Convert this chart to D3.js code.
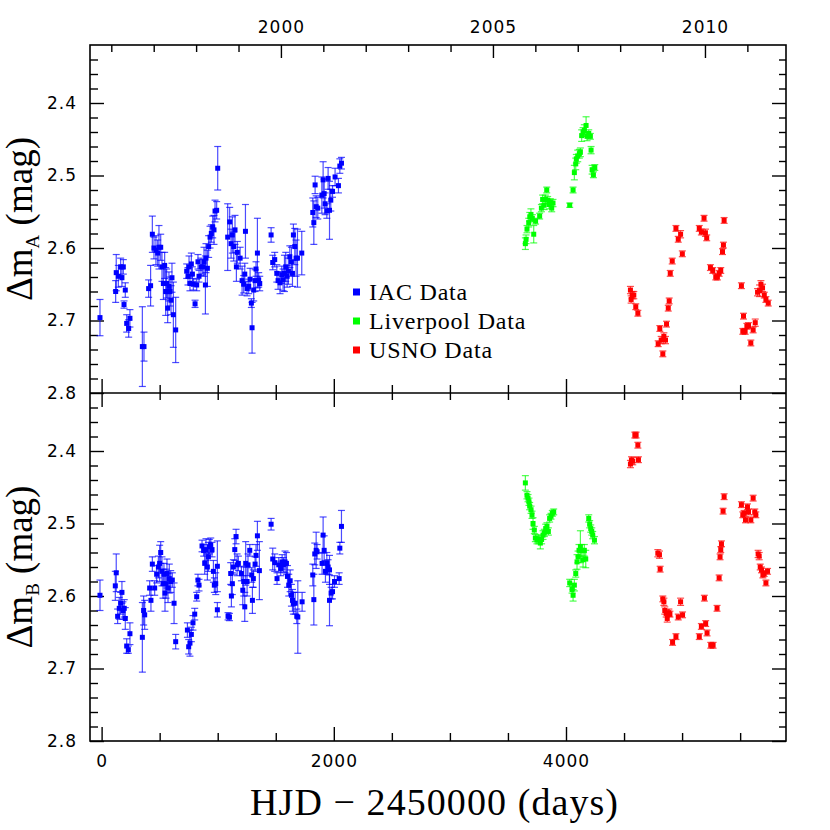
<!DOCTYPE html>
<html>
<head>
<meta charset="utf-8">
<script src="https://cdn.jsdelivr.net/npm/d3@7"></script>
<style>
  body { margin: 0; background: #fff; }
</style>
</head>
<body>
<div id="chart"></div>
<script>
// rows are [HJD - 2450000, delta mag, error]
var iacA = [[-14,2.696,0.025],[121,2.660,0.015],[126,2.634,0.025],[144,2.639,0.015],[164,2.626,0.012],[175,2.641,0.012],[187,2.626,0.010],[193,2.678,0.005],[204,2.658,0.010],[216,2.704,0.012],[233,2.711,0.012],[244,2.697,0.012],
  [351,2.736,0.055],[365,2.736,0.020],[405,2.656,0.012],[422,2.652,0.028],[437,2.581,0.025],[451,2.600,0.015],[468,2.603,0.020],[483,2.607,0.018],[494,2.599,0.030],[509,2.599,0.018],[520,2.626,0.020],[532,2.649,0.022],[543,2.624,0.018],[552,2.660,0.033],[560,2.649,0.020],[569,2.683,0.020],[580,2.653,0.020],[589,2.660,0.020],[598,2.672,0.020],[606,2.641,0.020],[618,2.692,0.045],[638,2.713,0.045],
  [733,2.632,0.010],[744,2.639,0.012],[753,2.626,0.015],[761,2.649,0.010],[773,2.622,0.015],[782,2.636,0.010],[790,2.650,0.008],[805,2.677,0.005],[819,2.651,0.008],[830,2.619,0.010],[839,2.639,0.008],[856,2.626,0.012],[871,2.626,0.010],[882,2.619,0.020],[894,2.651,0.040],[899,2.614,0.020],[911,2.628,0.025],[922,2.598,0.015],[934,2.585,0.015],[945,2.580,0.012],[957,2.571,0.015],[968,2.575,0.020],[977,2.549,0.015],[991,2.548,0.012],[1000,2.490,0.030],
  [1086,2.585,0.046],[1103,2.564,0.020],[1115,2.594,0.020],[1126,2.582,0.025],[1138,2.598,0.020],[1149,2.575,0.020],[1161,2.626,0.020],[1169,2.606,0.015],[1193,2.614,0.015],[1210,2.645,0.020],[1224,2.650,0.012],[1233,2.636,0.015],[1239,2.577,0.037],[1253,2.656,0.010],[1267,2.653,0.010],[1279,2.643,0.015],[1290,2.676,0.006],[1296,2.710,0.035],[1310,2.658,0.015],[1322,2.645,0.015],[1330,2.629,0.010],[1342,2.607,0.048],[1353,2.644,0.010],[1362,2.649,0.010],
  [1460,2.582,0.010],[1474,2.620,0.010],[1491,2.616,0.010],[1509,2.635,0.012],[1520,2.645,0.012],[1537,2.648,0.015],[1552,2.637,0.012],[1563,2.644,0.015],[1575,2.635,0.025],[1586,2.626,0.020],[1598,2.639,0.015],[1609,2.632,0.018],[1621,2.612,0.015],[1635,2.619,0.020],[1644,2.635,0.018],[1652,2.582,0.015],[1664,2.598,0.025],[1675,2.614,0.025],[1687,2.614,0.040],[1724,2.607,0.030],
  [1819,2.551,0.020],[1828,2.565,0.030],[1839,2.513,0.012],[1848,2.543,0.015],[1862,2.545,0.015],[1897,2.527,0.025],[1908,2.506,0.025],[1917,2.525,0.020],[1925,2.539,0.015],[1940,2.549,0.010],[1951,2.504,0.015],[1963,2.548,0.040],[1974,2.534,0.015],[1989,2.522,0.008],[2011,2.502,0.012],[2040,2.514,0.010],[2052,2.487,0.010],[2066,2.483,0.008]];

var liverpoolA = [[3650,2.594,0.008],[3656,2.588,0.006],[3664,2.574,0.005],[3679,2.565,0.006],[3688,2.557,0.006],[3698,2.554,0.008],[3710,2.559,0.005],[3722,2.581,0.012],[3738,2.563,0.004],[3773,2.556,0.004],[3788,2.545,0.005],[3799,2.533,0.006],[3811,2.541,0.006],[3822,2.533,0.006],[3834,2.520,0.004],[3842,2.534,0.005],[3854,2.540,0.006],[3865,2.537,0.005],[3877,2.545,0.005],[3888,2.538,0.005],
  [4032,2.541,0.003],[4061,2.520,0.004],[4072,2.496,0.010],[4084,2.484,0.008],[4089,2.477,0.006],[4101,2.473,0.008],[4115,2.470,0.006],[4124,2.468,0.006],[4135,2.445,0.008],[4147,2.440,0.006],[4158,2.438,0.008],[4173,2.431,0.012],[4181,2.446,0.006],[4196,2.442,0.005],[4210,2.446,0.004],[4216,2.465,0.005],[4225,2.492,0.006],[4236,2.499,0.004],[4248,2.489,0.004]];

var usnoA = [[4555,2.658,0.005],[4561,2.671,0.005],[4570,2.665,0.005],[4584,2.665,0.005],[4601,2.681,0.004],[4619,2.690,0.004],[4794,2.732,0.004],[4808,2.711,0.004],[4820,2.727,0.005],[4834,2.746,0.004],[4843,2.722,0.005],[4857,2.727,0.005],[4866,2.705,0.004],[4881,2.683,0.004],[4889,2.673,0.004],[4898,2.635,0.004],[4915,2.618,0.004],[4947,2.573,0.004],[4967,2.588,0.004],[4987,2.581,0.005],[5002,2.608,0.004],
  [5148,2.573,0.004],[5166,2.578,0.004],[5189,2.559,0.004],[5201,2.579,0.005],[5212,2.586,0.004],[5244,2.627,0.004],[5264,2.631,0.004],[5290,2.640,0.004],[5304,2.640,0.004],[5319,2.635,0.004],[5333,2.631,0.004],[5348,2.605,0.004],[5356,2.596,0.004],[5362,2.562,0.004],
  [5511,2.652,0.004],[5523,2.715,0.004],[5529,2.694,0.004],[5543,2.715,0.004],[5558,2.708,0.004],[5572,2.707,0.004],[5592,2.731,0.004],[5612,2.713,0.004],[5630,2.703,0.005],[5650,2.661,0.005],[5667,2.659,0.008],[5679,2.650,0.005],[5693,2.655,0.005],[5708,2.665,0.004],[5722,2.671,0.004],[5742,2.676,0.004]];

var iacB = [[-14,2.599,0.021],[118,2.586,0.020],[126,2.568,0.026],[138,2.628,0.010],[152,2.617,0.015],[164,2.610,0.015],[175,2.595,0.015],[184,2.620,0.012],[195,2.617,0.012],[204,2.631,0.015],[216,2.669,0.010],[230,2.674,0.005],[244,2.652,0.015],
  [351,2.657,0.048],[362,2.620,0.020],[371,2.626,0.020],[414,2.589,0.010],[425,2.606,0.015],[437,2.556,0.010],[457,2.589,0.010],[474,2.570,0.012],[489,2.560,0.015],[500,2.555,0.025],[509,2.540,0.015],[520,2.566,0.020],[529,2.583,0.020],[537,2.570,0.015],[546,2.596,0.025],[555,2.583,0.020],[563,2.569,0.020],[572,2.589,0.020],[583,2.576,0.020],[595,2.580,0.015],[609,2.578,0.010],[624,2.610,0.028],[638,2.663,0.010],
  [739,2.647,0.010],[750,2.670,0.010],[761,2.665,0.018],[773,2.653,0.010],[787,2.637,0.010],[802,2.625,0.008],[819,2.601,0.006],[830,2.578,0.008],[839,2.585,0.008],[865,2.531,0.008],[879,2.537,0.008],[888,2.555,0.015],[899,2.536,0.015],[911,2.560,0.018],[920,2.546,0.020],[928,2.532,0.010],[940,2.530,0.010],[951,2.536,0.010],[963,2.566,0.015],[971,2.585,0.010],[983,2.583,0.015],[997,2.559,0.035],[997,2.619,0.010],
  [1089,2.628,0.005],[1101,2.629,0.005],[1112,2.569,0.015],[1118,2.600,0.015],[1126,2.583,0.015],[1135,2.560,0.010],[1147,2.536,0.015],[1158,2.518,0.010],[1167,2.557,0.015],[1178,2.555,0.010],[1204,2.569,0.010],[1216,2.592,0.020],[1224,2.580,0.020],[1233,2.615,0.020],[1241,2.555,0.030],[1253,2.580,0.020],[1261,2.557,0.015],[1276,2.537,0.008],[1293,2.571,0.010],[1299,2.606,0.018],[1307,2.576,0.012],[1322,2.556,0.010],[1330,2.544,0.015],[1342,2.517,0.020],[1359,2.565,0.040],
  [1460,2.501,0.008],[1474,2.549,0.015],[1491,2.554,0.012],[1511,2.576,0.008],[1526,2.557,0.010],[1543,2.562,0.010],[1555,2.553,0.010],[1566,2.557,0.010],[1580,2.553,0.015],[1592,2.555,0.015],[1601,2.573,0.015],[1612,2.585,0.015],[1624,2.579,0.015],[1635,2.599,0.015],[1644,2.606,0.015],[1652,2.610,0.015],[1667,2.610,0.015],[1681,2.628,0.010],[1690,2.629,0.050],[1727,2.608,0.013],
  [1819,2.571,0.015],[1828,2.605,0.035],[1836,2.542,0.015],[1848,2.537,0.025],[1856,2.539,0.010],[1899,2.555,0.015],[1908,2.516,0.025],[1917,2.537,0.020],[1928,2.566,0.015],[1940,2.555,0.015],[1951,2.560,0.010],[1963,2.564,0.020],[1963,2.606,0.035],[1977,2.596,0.008],[1989,2.594,0.010],[2006,2.580,0.008],[2046,2.576,0.008],[2052,2.534,0.008],[2066,2.504,0.022]];

var liverpoolB = [[3650,2.444,0.010],[3664,2.461,0.005],[3673,2.465,0.005],[3681,2.470,0.005],[3687,2.476,0.005],[3699,2.481,0.005],[3707,2.488,0.005],[3716,2.500,0.008],[3727,2.509,0.005],[3736,2.520,0.005],[3750,2.523,0.005],[3765,2.522,0.006],[3779,2.527,0.008],[3790,2.522,0.006],[3802,2.516,0.006],[3813,2.513,0.005],[3825,2.507,0.006],[3836,2.504,0.005],[3848,2.511,0.005],[3859,2.493,0.005],[3871,2.490,0.004],[3882,2.486,0.004],[3894,2.484,0.004],
  [4032,2.582,0.005],[4052,2.591,0.005],[4061,2.599,0.008],[4072,2.585,0.008],[4084,2.569,0.005],[4095,2.553,0.010],[4104,2.546,0.008],[4112,2.537,0.008],[4124,2.532,0.022],[4135,2.537,0.008],[4147,2.550,0.010],[4158,2.537,0.008],[4170,2.549,0.012],[4196,2.493,0.005],[4204,2.501,0.005],[4213,2.507,0.005],[4222,2.511,0.005],[4230,2.516,0.005],[4245,2.523,0.005]];

var usnoB = [[4555,2.418,0.005],[4564,2.413,0.005],[4575,2.414,0.005],[4593,2.378,0.004],[4604,2.378,0.004],[4619,2.392,0.004],[4624,2.412,0.004],[4791,2.541,0.005],[4805,2.543,0.005],[4811,2.563,0.004],[4834,2.604,0.004],[4843,2.608,0.005],[4851,2.620,0.005],[4863,2.624,0.005],[4872,2.631,0.005],[4886,2.623,0.005],[4895,2.625,0.004],[4918,2.664,0.004],[4947,2.656,0.004],[4967,2.629,0.004],[4987,2.608,0.005],[5004,2.626,0.004],
  [5148,2.656,0.004],[5166,2.642,0.004],[5192,2.603,0.004],[5203,2.638,0.004],[5215,2.651,0.004],[5247,2.668,0.004],[5267,2.668,0.004],[5301,2.617,0.004],[5319,2.575,0.004],[5327,2.546,0.004],[5333,2.536,0.004],[5339,2.528,0.004],[5353,2.483,0.004],[5362,2.463,0.004],
  [5511,2.474,0.004],[5523,2.488,0.004],[5534,2.486,0.004],[5546,2.495,0.004],[5563,2.477,0.004],[5572,2.484,0.004],[5592,2.495,0.004],[5612,2.465,0.004],[5626,2.484,0.004],[5635,2.488,0.004],[5655,2.542,0.005],[5664,2.545,0.005],[5673,2.560,0.004],[5684,2.564,0.004],[5696,2.571,0.004],[5707,2.569,0.004],[5722,2.582,0.004],[5736,2.566,0.004]];

var seriesNames = ['IAC Data', 'Liverpool Data', 'USNO Data'];
var seriesColors = ['#0000ff', '#00ff00', '#ff0000'];
var magTicks = [2.4, 2.5, 2.6, 2.7, 2.8];
var dayTicks = [0, 2000, 4000];
var yearTicks = [2000, 2005, 2010];

// layout
var plotL = 90, plotR = 786, plotT = 45, plotM = 393, plotB = 741;
var tickFont = '"DejaVu Sans", sans-serif';
var labelFont = '"Liberation Serif", serif';

var svg = d3.select('#chart').append('svg')
    .attr('width', 830)
    .attr('height', 830);

var x = d3.scaleLinear().domain([-100, 5895]).range([plotL, plotR]);

// year 2000.0 = HJD 2451544.5
function dayToYear(d) { return 2000 + (d - 1544.5) / 365.25; }
var xYear = d3.scaleLinear().domain([dayToYear(-100), dayToYear(5895)]).range([plotL, plotR]);

var yA = d3.scaleLinear().domain([2.32, 2.8]).range([plotT, plotM]);
var yB = d3.scaleLinear().domain([2.32, 2.8]).range([plotM, plotB]);

var dayMinor = d3.range(0, 6000, 500).filter(function(d) { return dayTicks.indexOf(d) < 0; });
var yearMinor = d3.range(1996, 2012).filter(function(d) { return yearTicks.indexOf(d) < 0; });
var magMinor = d3.range(2.34, 2.8, 0.02).filter(function(d) {
  return Math.abs(Math.round(d * 10) - d * 10) > 0.01;
});

function styleAxis(g, showLabels) {
  g.select('.domain').remove();
  g.selectAll('line').attr('stroke', '#000').attr('stroke-width', 1.4);
  g.selectAll('text')
    .style('font-family', tickFont)
    .style('font-size', '17px')
    .style('letter-spacing', '1px')
    .attr('fill', '#000');
  if (!showLabels) g.selectAll('text').remove();
}

function drawPanel(y, isTop, data, sub) {
  // left and right mag ticks
  svg.append('g').attr('transform', 'translate(' + plotL + ',0)')
      .call(d3.axisLeft(y).tickValues(magTicks).tickSize(-14).tickPadding(13).tickFormat(d3.format('.1f')))
      .call(styleAxis, true);
  svg.append('g').attr('transform', 'translate(' + plotL + ',0)')
      .call(d3.axisLeft(y).tickValues(magMinor).tickSize(-8).tickFormat(''))
      .call(styleAxis, false);
  svg.append('g').attr('transform', 'translate(' + plotR + ',0)')
      .call(d3.axisRight(y).tickValues(magTicks).tickSize(-14).tickFormat(''))
      .call(styleAxis, false);
  svg.append('g').attr('transform', 'translate(' + plotR + ',0)')
      .call(d3.axisRight(y).tickValues(magMinor).tickSize(-7).tickFormat(''))
      .call(styleAxis, false);

  var y0 = y.range()[0], y1 = y.range()[1];
  // bottom day ticks
  svg.append('g').attr('transform', 'translate(0,' + y1 + ')')
      .call(d3.axisBottom(x).tickValues(dayTicks).tickSize(-14).tickPadding(14).tickFormat(d3.format('d')))
      .call(styleAxis, !isTop);
  svg.append('g').attr('transform', 'translate(0,' + y1 + ')')
      .call(d3.axisBottom(x).tickValues(dayMinor).tickSize(-8).tickFormat(''))
      .call(styleAxis, false);
  // top ticks
  if (isTop) {
    svg.append('g').attr('transform', 'translate(0,' + y0 + ')')
        .call(d3.axisTop(xYear).tickValues(yearTicks).tickSize(-13).tickPadding(12).tickFormat(d3.format('d')))
        .call(styleAxis, true);
    svg.append('g').attr('transform', 'translate(0,' + y0 + ')')
        .call(d3.axisTop(xYear).tickValues(yearMinor).tickSize(-7).tickFormat(''))
        .call(styleAxis, false);
  } else {
    svg.append('g').attr('transform', 'translate(0,' + y0 + ')')
        .call(d3.axisTop(x).tickValues(dayTicks).tickSize(-14).tickFormat(''))
        .call(styleAxis, false);
    svg.append('g').attr('transform', 'translate(0,' + y0 + ')')
        .call(d3.axisTop(x).tickValues(dayMinor).tickSize(-7).tickFormat(''))
        .call(styleAxis, false);
  }

  // data: error bars then squares
  data.forEach(function(rows, i) {
    var col = seriesColors[i];
    var g = svg.append('g');
    var eb = g.selectAll('g.eb').data(rows).enter().append('g')
        .attr('stroke', col)
        .attr('stroke-width', 1.2)
        .attr('stroke-opacity', 0.7);
    eb.append('line')
        .attr('x1', function(d) { return x(d[0]); })
        .attr('x2', function(d) { return x(d[0]); })
        .attr('y1', function(d) { return y(d[1] - d[2]); })
        .attr('y2', function(d) { return y(d[1] + d[2]); });
    eb.append('line')
        .attr('x1', function(d) { return x(d[0]) - 3.5; })
        .attr('x2', function(d) { return x(d[0]) + 3.5; })
        .attr('y1', function(d) { return y(d[1] - d[2]); })
        .attr('y2', function(d) { return y(d[1] - d[2]); });
    eb.append('line')
        .attr('x1', function(d) { return x(d[0]) - 3.5; })
        .attr('x2', function(d) { return x(d[0]) + 3.5; })
        .attr('y1', function(d) { return y(d[1] + d[2]); })
        .attr('y2', function(d) { return y(d[1] + d[2]); });
    g.selectAll('rect').data(rows).enter().append('rect')
        .attr('x', function(d) { return x(d[0]) - 2.5; })
        .attr('y', function(d) { return y(d[1]) - 2.5; })
        .attr('width', 5)
        .attr('height', 5)
        .attr('fill', col);
  });

  // y label
  var cy = (y0 + y1) / 2;
  var t = svg.append('text')
      .attr('transform', 'translate(32,' + cy + ') rotate(-90)')
      .attr('text-anchor', 'middle')
      .style('font-family', labelFont)
      .style('font-size', '37px')
      .attr('fill', '#000');
  t.append('tspan').text('\u0394m');
  t.append('tspan').attr('dy', 7).style('font-size', '19px').text(sub);
  t.append('tspan').attr('dy', -7).text('\u00a0(mag)');
}

drawPanel(yA, true, [iacA, liverpoolA, usnoA], 'A');
drawPanel(yB, false, [iacB, liverpoolB, usnoB], 'B');

// frame
svg.append('rect')
    .attr('x', plotL).attr('y', plotT)
    .attr('width', plotR - plotL).attr('height', plotB - plotT)
    .attr('fill', 'none').attr('stroke', '#000').attr('stroke-width', 1.6);
svg.append('line')
    .attr('x1', plotL).attr('x2', plotR).attr('y1', plotM).attr('y2', plotM)
    .attr('stroke', '#000').attr('stroke-width', 1.6);

// x label
svg.append('text')
    .attr('x', 250)
    .attr('y', 815)
    .attr('textLength', 368)
    .attr('lengthAdjust', 'spacing')
    .style('font-family', labelFont)
    .style('font-size', '38px')
    .text('HJD \u2212 2450000 (days)');

// legend
var legend = svg.append('g').selectAll('g').data(seriesNames).enter().append('g')
    .attr('transform', function(d, i) { return 'translate(353,' + (292 + i * 29) + ')'; });
legend.append('rect')
    .attr('x', 0).attr('y', -3.5).attr('width', 7).attr('height', 7)
    .attr('fill', function(d, i) { return seriesColors[i]; });
legend.append('text')
    .attr('x', 16).attr('y', 8)
    .style('font-family', labelFont)
    .style('font-size', '24px')
    .style('letter-spacing', '0.8px')
    .text(function(d) { return d; });
</script>
</body>
</html>
